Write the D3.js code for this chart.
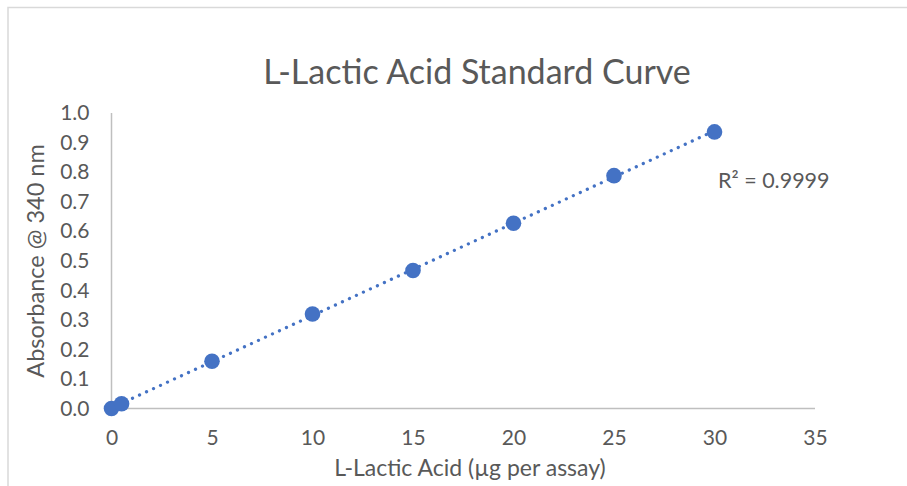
<!DOCTYPE html>
<html>
<head>
<meta charset="utf-8">
<script src="https://cdn.jsdelivr.net/npm/d3@7"></script>
<style>
  body { margin: 0; background: #fff; }
  text { font-family: Lato, "Open Sans", sans-serif; fill: #595959; }
</style>
</head>
<body>
<svg width="907" height="486"></svg>
<script>
// data
const amounts = [0, 0.5, 5, 10, 15, 20, 25, 30];
const absorbance = [0, 0.016, 0.160, 0.320, 0.467, 0.627, 0.788, 0.936];
const xTicks = [0, 5, 10, 15, 20, 25, 30, 35];
const yTicks = [0, 0.1, 0.2, 0.3, 0.4, 0.5, 0.6, 0.7, 0.8, 0.9, 1.0];
const title = "L-Lactic Acid Standard Curve";
const xTitle = "L-Lactic Acid (µg per assay)";
const yTitle = "Absorbance @ 340 nm";
const r2Label = "R² = 0.9999";

const svg = d3.select("svg");
const blue = "#4472c4";

// chart frame (only top and left edges show)
svg.append("path")
  .attr("d", "M8,940 V7.5 H1000")
  .attr("fill", "none")
  .attr("stroke", "#d9d9d9")
  .attr("stroke-width", 1.5);

const x = d3.scaleLinear().domain([0, 35]).range([111.5, 815]);
const y = d3.scaleLinear().domain([0, 1]).range([408.5, 113]);

// title
svg.append("text")
  .attr("x", 477).attr("y", 84)
  .attr("text-anchor", "middle")
  .style("font-size", "34px")
  .text(title);

// axes lines
svg.append("line")
  .attr("x1", x(0)).attr("x2", x(35))
  .attr("y1", y(0)).attr("y2", y(0))
  .attr("stroke", "#bfbfbf").attr("stroke-width", 1.5);
svg.append("line")
  .attr("x1", x(0)).attr("x2", x(0))
  .attr("y1", y(0)).attr("y2", y(1))
  .attr("stroke", "#bfbfbf").attr("stroke-width", 1.5);

// tick labels
const xAxis = svg.append("g")
  .attr("transform", `translate(0,${y(0)})`)
  .call(d3.axisBottom(x).tickValues(xTicks).tickSize(0).tickPadding(22).tickFormat(d3.format("d")));
xAxis.select(".domain").remove();
xAxis.selectAll("text").style("font-size", "21px").style("fill", "#595959")
  .style("font-family", "Lato, sans-serif");

const yAxis = svg.append("g")
  .attr("transform", `translate(${x(0)},0)`)
  .call(d3.axisLeft(y).tickValues(yTicks).tickSize(0).tickPadding(22).tickFormat(d3.format(".1f")));
yAxis.select(".domain").remove();
yAxis.selectAll("text").style("font-size", "21px").style("fill", "#595959")
  .style("font-family", "Lato, sans-serif");

// axis titles
svg.append("text")
  .attr("x", 470).attr("y", 476)
  .attr("text-anchor", "middle")
  .style("font-size", "23px")
  .text(xTitle);
svg.append("text")
  .attr("transform", "translate(44,261) rotate(-90)")
  .attr("text-anchor", "middle")
  .style("font-size", "23.5px")
  .text(yTitle);

// linear trendline through the points
const mx = d3.mean(amounts), my = d3.mean(absorbance);
const slope = d3.sum(amounts, (d, i) => (d - mx) * (absorbance[i] - my)) /
  d3.sum(amounts, d => (d - mx) * (d - mx));
const icpt = my - slope * mx;
const ends = d3.extent(amounts);
svg.append("path")
  .attr("d", d3.line()(ends.map(d => [x(d), y(icpt + slope * d)])))
  .attr("fill", "none")
  .attr("stroke", blue)
  .attr("stroke-width", 3.2)
  .attr("stroke-linecap", "round")
  .attr("stroke-dasharray", "0.1 7.6");

// points
svg.selectAll("circle.pt")
  .data(amounts)
  .enter()
  .append("circle")
  .attr("class", "pt")
  .attr("cx", d => x(d))
  .attr("cy", (d, i) => y(absorbance[i]))
  .attr("r", 7.8)
  .attr("fill", blue);

// R² label
svg.append("text")
  .attr("x", 718).attr("y", 188)
  .style("font-size", "21.5px")
  .text(r2Label);
</script>
</body>
</html>
